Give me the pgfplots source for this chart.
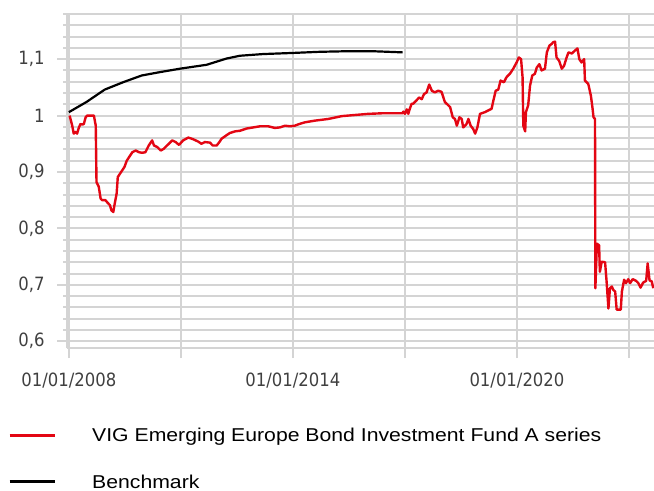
\documentclass[border=0pt]{standalone}
\usepackage{fontspec}
\usepackage{pgfplots}
\pgfplotsset{compat=1.18}
\newfontfamily\tickfont[FakeStretch=0.9]{DejaVu Sans}
\newfontfamily\legfont[FakeStretch=1.14]{Liberation Sans}
\definecolor{gridgray}{HTML}{D4D4D4}
\definecolor{fundred}{HTML}{E30613}
\definecolor{ticktext}{HTML}{404040}
\begin{document}
\begin{tikzpicture}
\useasboundingbox (0bp,0bp) rectangle (654bp,491bp);
\begin{axis}[
  at={(67bp,143bp)}, anchor=south west,
  scale only axis, width=587bp, height=334bp,
  xmin=2007.95, xmax=2023.67, ymin=0.588, ymax=1.18,
  axis lines=left,
  axis line style={-, draw=gridgray, line width=2bp},
  tick align=outside,
  major tick length=10bp, minor tick length=4bp,
  tick style={draw=gridgray, line width=2bp},
  xtick={2008,2011,2014,2017,2020,2023},
  xticklabels={01/01/2008,,01/01/2014,,01/01/2020,},
  ytick={0.6,0.7,0.8,0.9,1.0,1.1},
  yticklabels={{0,6},{0,7},{0,8},{0,9},{1},{1,1}},
  minor ytick={0.62,0.64,0.66,0.68,0.72,0.74,0.76,0.78,0.82,0.84,0.86,0.88,0.92,0.94,0.96,0.98,1.02,1.04,1.06,1.08,1.12,1.14,1.16,1.18},
  xmajorgrids, ymajorgrids, yminorgrids,
  major grid style={draw=gridgray, line width=2bp},
  minor grid style={draw=gridgray, line width=2bp},
  tick label style={font=\tickfont\fontsize{18.3bp}{20bp}\selectfont, text=ticktext},
  yticklabel style={xshift=-9bp},
  xticklabel style={yshift=-11bp},
  legend style={at={(axis description cs:-0.1005,-0.2407)}, anchor=north west,
    draw=none, fill=none, inner sep=0pt, row sep=29.3bp,
    nodes={inner sep=0pt, text height=13.3bp, text depth=3.7bp,
      font=\legfont\fontsize{18.6bp}{20bp}\selectfont, text=black},
    /tikz/every odd column/.append style={column sep=36bp}},
  legend cell align=left,
  legend image code/.code={\draw[#1, line width=3bp] (0bp,1.5bp) -- (45bp,1.5bp);},
]
\addplot[fundred, line width=2.4bp, line join=round] coordinates {
(2008.02,1.000) (2008.09,0.982) (2008.13,0.968) (2008.18,0.971) (2008.22,0.968)
(2008.27,0.979) (2008.31,0.985) (2008.36,0.984) (2008.40,0.985) (2008.45,0.997)
(2008.49,1.000) (2008.67,1.000) (2008.72,0.982) (2008.74,0.882) (2008.80,0.874)
(2008.85,0.853) (2008.89,0.850) (2008.98,0.850) (2009.03,0.846) (2009.10,0.841)
(2009.14,0.832) (2009.19,0.829) (2009.22,0.841) (2009.28,0.862) (2009.31,0.891)
(2009.37,0.897) (2009.43,0.903) (2009.49,0.909) (2009.55,0.920) (2009.61,0.926)
(2009.70,0.935) (2009.79,0.938) (2009.88,0.935) (2009.96,0.934) (2010.05,0.935)
(2010.14,0.947) (2010.23,0.956) (2010.28,0.947) (2010.37,0.944) (2010.46,0.938)
(2010.54,0.941) (2010.63,0.947) (2010.77,0.956) (2010.86,0.953) (2010.95,0.948)
(2011.06,0.956) (2011.20,0.961) (2011.33,0.958) (2011.46,0.954) (2011.55,0.950)
(2011.64,0.953) (2011.78,0.952) (2011.85,0.947) (2011.96,0.947) (2012.03,0.953)
(2012.09,0.959) (2012.22,0.965) (2012.31,0.969) (2012.45,0.972) (2012.58,0.973)
(2012.76,0.977) (2012.94,0.979) (2013.12,0.981) (2013.34,0.981) (2013.52,0.978)
(2013.65,0.979) (2013.79,0.982) (2013.92,0.981) (2014.05,0.982) (2014.17,0.985)
(2014.32,0.988) (2014.59,0.991) (2014.95,0.994) (2015.31,0.999) (2015.66,1.001)
(2016.02,1.003) (2016.38,1.004) (2016.73,1.004) (2016.93,1.004) (2016.96,1.007)
(2017.00,1.003) (2017.05,1.011) (2017.09,1.003) (2017.13,1.012) (2017.18,1.021)
(2017.22,1.021) (2017.31,1.027) (2017.38,1.032) (2017.45,1.029) (2017.51,1.038)
(2017.58,1.041) (2017.65,1.055) (2017.72,1.044) (2017.80,1.041) (2017.89,1.044)
(2017.98,1.042) (2018.07,1.024) (2018.21,1.015) (2018.28,0.997) (2018.34,0.994)
(2018.39,0.982) (2018.46,0.997) (2018.52,0.994) (2018.56,0.979) (2018.65,0.985)
(2018.70,0.994) (2018.76,0.982) (2018.83,0.976) (2018.88,0.968) (2018.94,0.979)
(2019.01,1.003) (2019.14,1.006) (2019.23,1.009) (2019.32,1.012) (2019.37,1.027)
(2019.43,1.044) (2019.50,1.046) (2019.56,1.062) (2019.65,1.059) (2019.72,1.068)
(2019.81,1.074) (2019.90,1.083) (2019.99,1.094) (2020.05,1.103) (2020.11,1.100)
(2020.15,1.068) (2020.17,0.982) (2020.22,0.972) (2020.24,1.006) (2020.30,1.018)
(2020.35,1.053) (2020.41,1.071) (2020.48,1.074) (2020.53,1.085) (2020.60,1.091)
(2020.66,1.080) (2020.75,1.083) (2020.80,1.112) (2020.87,1.124) (2020.93,1.127)
(2020.97,1.130) (2021.02,1.131) (2021.06,1.103) (2021.13,1.097) (2021.20,1.083)
(2021.26,1.088) (2021.33,1.103) (2021.38,1.112) (2021.47,1.110) (2021.55,1.115)
(2021.62,1.119) (2021.67,1.100) (2021.73,1.094) (2021.80,1.100) (2021.82,1.062)
(2021.91,1.056) (2021.98,1.035) (2022.02,1.015) (2022.05,0.997) (2022.09,0.994)
(2022.10,0.694) (2022.14,0.773) (2022.20,0.770) (2022.22,0.723) (2022.27,0.741)
(2022.36,0.740) (2022.40,0.706) (2022.45,0.658) (2022.49,0.694) (2022.54,0.697)
(2022.58,0.691) (2022.63,0.688) (2022.67,0.656) (2022.78,0.656) (2022.81,0.688)
(2022.87,0.709) (2022.92,0.703) (2022.98,0.710) (2023.03,0.703) (2023.10,0.710)
(2023.19,0.707) (2023.25,0.703) (2023.31,0.695) (2023.38,0.704) (2023.46,0.707)
(2023.50,0.738) (2023.55,0.708) (2023.61,0.706) (2023.65,0.694)
};
\addlegendentry{VIG Emerging Europe Bond Investment Fund A series}
\addplot[black, line width=2.2bp, line join=round] coordinates {
(2008.00,1.006) (2008.47,1.024) (2008.96,1.046) (2009.45,1.059) (2009.95,1.071)
(2010.44,1.077) (2010.97,1.083) (2011.69,1.090) (2012.22,1.101) (2012.58,1.106)
(2013.20,1.109) (2014.01,1.111) (2014.72,1.113) (2015.44,1.114) (2016.15,1.114)
(2016.94,1.112)
};
\addlegendentry{Benchmark}
\end{axis}
\end{tikzpicture}
\end{document}
